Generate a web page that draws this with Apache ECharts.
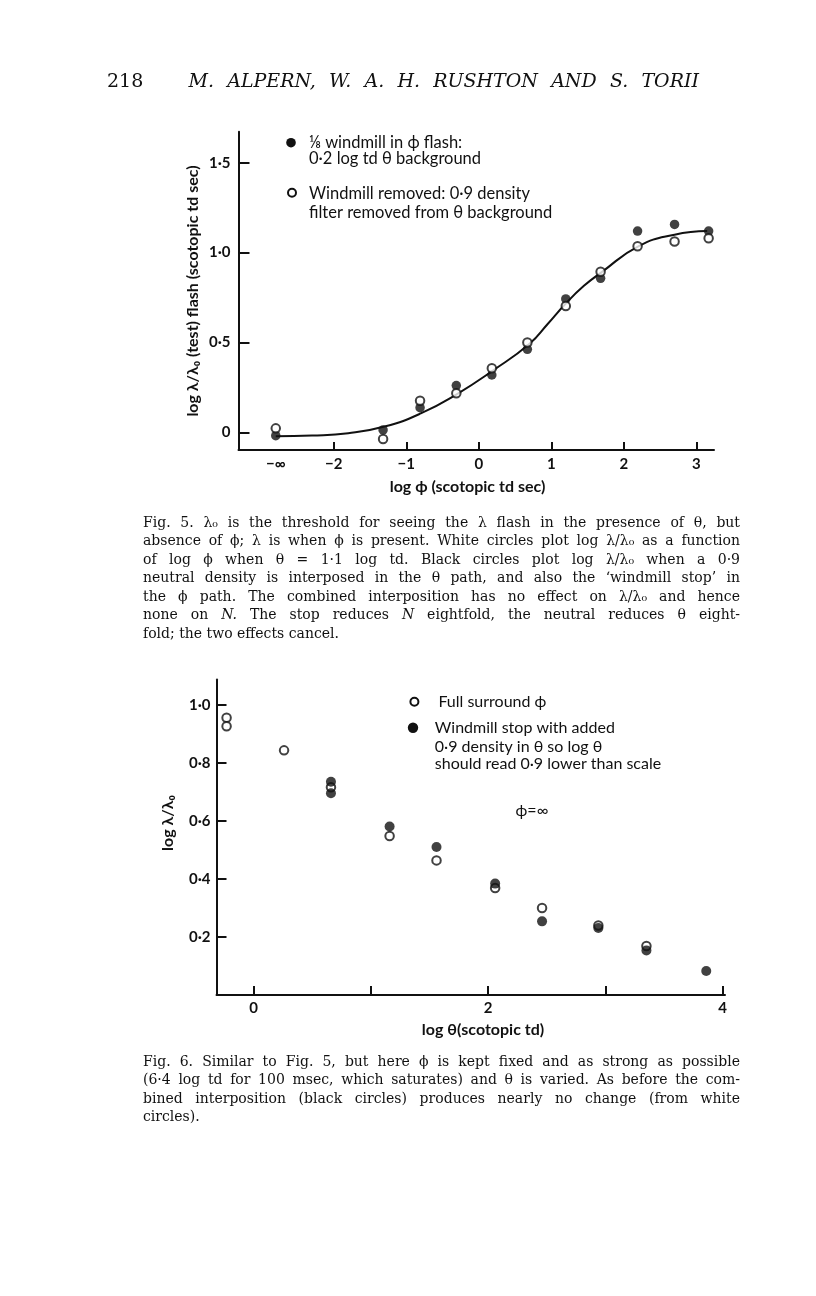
<!DOCTYPE html>
<html><head><meta charset="utf-8">
<script src="https://cdn.jsdelivr.net/npm/echarts@6/dist/echarts.min.js"></script>
<style>html,body{margin:0;padding:0;background:#fff}#c{width:816px;height:1296px}</style>
</head><body><div id="c"></div>
<script>
// ---------- Fig. 5 data ----------
const fig5X        = [-2.8, -1.32, -0.81, -0.31, 0.18, 0.67, 1.2, 1.68, 2.19, 2.7, 3.17];
const fig5Filled   = [-0.019, 0.013, 0.137, 0.26, 0.319, 0.462, 0.742, 0.857, 1.12, 1.157, 1.12];
const fig5Open     = [0.022, -0.037, 0.176, 0.217, 0.356, 0.5, 0.703, 0.894, 1.035, 1.062, 1.08];
const fig5CurveX   = [-2.8, -2.3, -1.8, -1.3, -0.8, -0.3, 0.2, 0.7, 0.95, 1.2, 1.45, 1.7, 2.2, 2.7, 3.15];
const fig5CurveY   = [-0.022, -0.018, -0.005, 0.032, 0.105, 0.213, 0.345, 0.493, 0.603, 0.717, 0.815, 0.893, 1.035, 1.1, 1.12];
const fig5XTicks   = [-2, -1, 0, 1, 2, 3];
const fig5XLabels  = [-2.8, -2, -1, 0, 1, 2, 3];   // -2.8 is the "−∞" position
const fig5YTicks   = [0, 0.5, 1, 1.5];
// ---------- Fig. 6 data ----------
const fig6OpenX    = [-0.23, -0.23, 0.26, 0.66, 1.16, 1.56, 2.06, 2.46, 2.94, 3.35];
const fig6OpenY    = [0.955, 0.926, 0.843, 0.716, 0.548, 0.464, 0.369, 0.30, 0.240, 0.169];
const fig6FilledX  = [0.66, 0.66, 1.16, 1.56, 2.06, 2.46, 2.94, 3.35, 3.86];
const fig6FilledY  = [0.735, 0.695, 0.581, 0.51, 0.384, 0.254, 0.231, 0.154, 0.083];
const fig6XTicks   = [0, 1, 2, 3, 4];
const fig6XLabels  = [0, 2, 4];
const fig6YTicks   = [0.2, 0.4, 0.6, 0.8, 1.0];
// ---------- texts ----------
const pageNumber = '218';
const pageTitle  = '_M. _ALPERN, _W. _A. _H. _RUSHTON _AND _S. _TORII';
const fig5Legend = ['⅛ windmill in ϕ flash:', '0·2 log td θ background', 'Windmill removed: 0·9 density', 'filter removed from θ background'];
const fig6Legend = ['Full surround ϕ', 'Windmill stop with added', '0·9 density in θ so log θ', 'should read 0·9 lower than scale'];
const fig6Note   = 'ϕ=∞';
const fig5XName  = 'log ϕ (scotopic td sec)';
const fig5YName  = 'log λ/λ₀ (test) flash (scotopic td sec)';
const fig6XName  = 'log θ(scotopic td)';
const fig6YName  = 'log λ/λ₀';
const caption5 = [
  'Fig. 5. λ₀ is the threshold for seeing the λ flash in the presence of θ, but',
  'absence of ϕ; λ is when ϕ is present. White circles plot log λ/λ₀ as a function',
  'of log ϕ when θ = 1·1 log td. Black circles plot log λ/λ₀ when a 0·9',
  'neutral density is interposed in the θ path, and also the ‘windmill stop’ in',
  'the ϕ path. The combined interposition has no effect on λ/λ₀ and hence',
  'none on _N. The stop reduces _N eightfold, the neutral reduces θ eight-',
  'fold; the two effects cancel.'
];
const caption6 = [
  'Fig. 6. Similar to Fig. 5, but here ϕ is kept fixed and as strong as possible',
  '(6·4 log td for 100 msec, which saturates) and θ is varied. As before the com-',
  'bined interposition (black circles) produces nearly no change (from white',
  'circles).'
];

const INK = '#111';
const SANS = 'Lato, "DejaVu Sans", sans-serif';
const SERIF = '"DejaVu Serif", serif';

const dec = v => v === 0 ? '0' : (v < 0 ? '−' : '') + Math.abs(v).toFixed(1).replace('.', '·');
const intLab = v => v < -2.5 ? '−∞' : (v < 0 ? '−' + Math.abs(v) : String(v));
const pairs = (xs, ys) => xs.map((x, i) => [x, ys[i]]);

// text measuring for justified lines
const mctx = document.createElement('canvas').getContext('2d');
function fontStr(size, italic) { return (italic ? 'italic ' : '') + 'normal ' + size + 'px ' + SERIF; }
function measure(w, size) {
  const it = w.startsWith('_');
  const t = it ? w.slice(1) : w;
  mctx.font = fontStr(size, it);
  return { t, it, w: mctx.measureText(t).width };
}
function lineEl(text, x0, x1, y, size, justify) {
  const words = text.split(' ').map(w => measure(w, size));
  mctx.font = fontStr(size, false);
  const sp = mctx.measureText(' ').width;
  const sum = words.reduce((a, b) => a + b.w, 0);
  const n = words.length - 1;
  const target = x1 - x0;
  let gap = sp, sx = 1;
  if (justify && n > 0) {
    const minGap = 0.6 * sp;
    if (sum + n * minGap <= target) gap = (target - sum) / n;
    else { gap = minGap; sx = target / (sum + n * minGap); }
  }
  let x = 0;
  const children = words.map(o => {
    const el = { type: 'text', x: x, y: 0, silent: true,
      style: { text: o.t, fontSize: size, fontFamily: SERIF, fontStyle: o.it ? 'italic' : 'normal',
               fill: INK, align: 'left', verticalAlign: 'middle' } };
    x += o.w + gap;
    return el;
  });
  return { type: 'group', x: x0, y: y, scaleX: sx, silent: true, children: children };
}
function paragraph(lines, x0, x1, y0, lh, size) {
  return lines.map((l, i) => lineEl(l, x0, x1, y0 + i * lh, size, i < lines.length - 1));
}
function sansText(t, x, y, size, opt) {
  opt = opt || {};
  return { type: 'text', x: x, y: y, rotation: opt.rot || 0, silent: true,
    style: { text: t, fontSize: size, fontFamily: SANS, fontWeight: opt.weight || 'normal',
             fill: INK, align: opt.align || 'left', verticalAlign: 'middle' } };
}

let graphics = [];
graphics.push({ type: 'text', x: 107, y: 82, silent: true,
  style: { text: pageNumber, fontSize: 19, fontFamily: SERIF, fill: INK, align: 'left', verticalAlign: 'middle' } });
graphics.push(lineEl(pageTitle, 188.5, 699, 82, 19, true));
graphics = graphics.concat(paragraph(caption5, 143, 740, 523, 18.5, 14));
graphics = graphics.concat(paragraph(caption6, 143, 740, 1062, 18.5, 14));

// Fig 5 legend + titles
graphics.push({ type: 'circle', silent: true, shape: { cx: 291, cy: 142.7, r: 4.8 }, style: { fill: INK } });
graphics.push({ type: 'circle', silent: true, shape: { cx: 292, cy: 192.7, r: 4 }, style: { fill: '#fff', stroke: INK, lineWidth: 2 } });
[142.7, 158.3, 193.3, 212.3].forEach((y, i) => graphics.push(sansText(fig5Legend[i], 309, y, 16.5)));
graphics.push(sansText(fig5XName, 467.5, 487, 16, { align: 'center', weight: 'bold' }));
graphics.push(sansText(fig5YName, 193, 291, 16, { align: 'center', weight: 'bold', rot: Math.PI / 2 }));
// Fig 6 legend + titles
graphics.push({ type: 'circle', silent: true, shape: { cx: 414.4, cy: 701.7, r: 4 }, style: { fill: '#fff', stroke: INK, lineWidth: 2 } });
graphics.push({ type: 'circle', silent: true, shape: { cx: 413, cy: 727.7, r: 5.2 }, style: { fill: INK } });
graphics.push(sansText(fig6Legend[0], 438.4, 701.7, 16));
[727.7, 746.7, 764.3].forEach((y, i) => graphics.push(sansText(fig6Legend[i + 1], 434.8, y, 16)));
graphics.push(sansText(fig6Note, 532, 811, 16, { align: 'center' }));
graphics.push(sansText(fig6XName, 483, 1030, 16, { align: 'center', weight: 'bold' }));
graphics.push(sansText(fig6YName, 168, 823, 16, { align: 'center', weight: 'bold', rot: Math.PI / 2 }));

const axisLine = { show: true, onZero: false, lineStyle: { color: INK, width: 2 } };
const labStyle = { color: INK, fontFamily: SANS, fontWeight: 'bold', fontSize: 15 };

const option = {
  backgroundColor: '#fff',
  animation: false,
  grid: [
    { left: 238.5, top: 131.7, width: 475.5, height: 318.3 },
    { left: 216.5, top: 679.5, width: 508.5, height: 315.6 }
  ],
  xAxis: [
    { type: 'value', gridIndex: 0, min: -3.314, max: 3.244, axisLine: axisLine,
      axisTick: { show: true, inside: true, length: 8, customValues: fig5XTicks, lineStyle: { color: INK, width: 2 } },
      axisLabel: Object.assign({ customValues: fig5XLabels, margin: 7, formatter: intLab }, labStyle),
      splitLine: { show: false } },
    { type: 'value', gridIndex: 1, min: -0.316, max: 4.02, axisLine: axisLine,
      axisTick: { show: true, inside: true, length: 9, customValues: fig6XTicks, lineStyle: { color: INK, width: 2 } },
      axisLabel: Object.assign({ customValues: fig6XLabels, margin: 6, formatter: v => String(v) }, labStyle),
      splitLine: { show: false } }
  ],
  yAxis: [
    { type: 'value', gridIndex: 0, min: -0.0985, max: 1.673, axisLine: axisLine,
      axisTick: { show: true, inside: true, length: 11, customValues: fig5YTicks, lineStyle: { color: INK, width: 2 } },
      axisLabel: Object.assign({ customValues: fig5YTicks, margin: 8, formatter: dec }, labStyle),
      splitLine: { show: false } },
    { type: 'value', gridIndex: 1, min: 0, max: 1.087, axisLine: axisLine,
      axisTick: { show: true, inside: true, length: 10, customValues: fig6YTicks, lineStyle: { color: INK, width: 2 } },
      axisLabel: Object.assign({ customValues: fig6YTicks, margin: 6, formatter: dec }, labStyle),
      splitLine: { show: false } }
  ],
  series: [
    { name: 'curve', type: 'line', xAxisIndex: 0, yAxisIndex: 0, data: pairs(fig5CurveX, fig5CurveY),
      smooth: 0.5, showSymbol: false, lineStyle: { color: INK, width: 2 }, z: 2 },
    { name: '⅛ windmill in ϕ flash', type: 'scatter', xAxisIndex: 0, yAxisIndex: 0, data: pairs(fig5X, fig5Filled),
      symbolSize: 9.5, itemStyle: { color: INK }, z: 3 },
    { name: 'Windmill removed', type: 'scatter', xAxisIndex: 0, yAxisIndex: 0, data: pairs(fig5X, fig5Open),
      symbolSize: 8.5, itemStyle: { color: '#fff', borderColor: INK, borderWidth: 2 }, z: 4 },
    { name: 'Full surround ϕ', type: 'scatter', xAxisIndex: 1, yAxisIndex: 1, data: pairs(fig6OpenX, fig6OpenY),
      symbolSize: 8.5, itemStyle: { color: '#fff', borderColor: INK, borderWidth: 2 }, z: 3 },
    { name: 'Windmill stop with added 0·9 density', type: 'scatter', xAxisIndex: 1, yAxisIndex: 1, data: pairs(fig6FilledX, fig6FilledY),
      symbolSize: 10, itemStyle: { color: INK }, z: 4 }
  ],
  graphic: graphics
};
const chart = echarts.init(document.getElementById('c'), null, { renderer: 'canvas' });
chart.setOption(option);
</script></body></html>
